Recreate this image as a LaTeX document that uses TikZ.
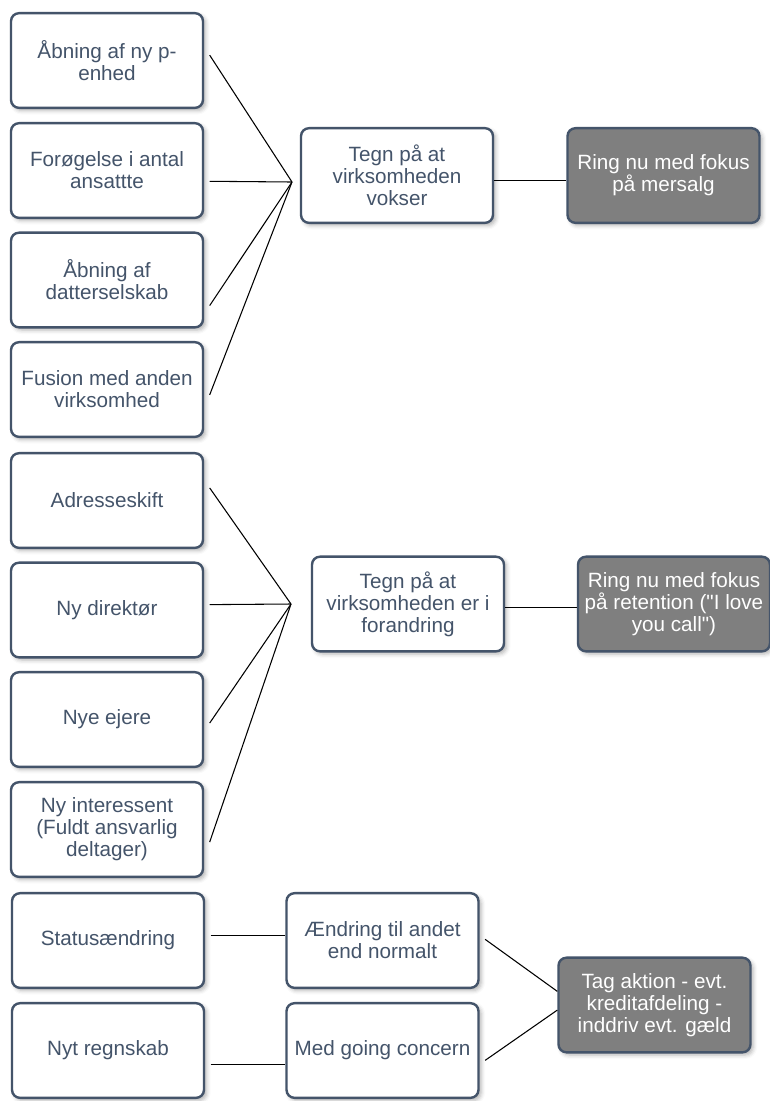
\documentclass[tikz,border=0pt]{standalone}
\usepackage{fontspec}
\setmainfont{Liberation Sans}
\newfontfamily\boxfont{Liberation Sans}
\usetikzlibrary{shadows.blur}
\definecolor{slate}{HTML}{44546A}
\definecolor{darkbox}{HTML}{7F7F7F}

\begin{document}
\begin{tikzpicture}[x=0.75pt, y=-0.75pt,
        box/.style = {rectangle,
            rounded corners=6pt,
            draw=slate, line width=1.8pt,
            fill=white, text=slate,
            align=center,
            minimum width=144pt, minimum height=71pt,
            inner sep=1pt,
            font=\boxfont\fontsize{15.5}{16.4}\selectfont,
            blur shadow={shadow xshift=2pt, shadow yshift=-2pt,
                shadow blur radius=3pt, shadow opacity=30}
            },
        dark/.style = {box, fill=darkbox, text=white},
        src/.style = {outer xsep=5pt},
        link/.style = {draw=black, line width=0.8pt}]

    \useasboundingbox (0,0) rectangle (769,1101);

    % Signs of growth
    \node[box,src] (penhed) at (107,60.5) {Åbning af ny p-\\enhed};
    \node[box,src] (ansatte) at (107,170.5) {Forøgelse i antal\\ansattte};
    \node[box,src] (datter) at (107,280) {Åbning af\\datterselskab};
    \node[box,src] (fusion) at (107,389.5) {Fusion med anden\\virksomhed};

    % Signs of change
    \node[box,src] (adresse) at (107,500.5) {Adresseskift};
    \node[box,src] (direktor) at (107,610) {Ny direktør};
    \node[box,src] (ejere) at (107,719.5) {Nye ejere};
    \node[box,src] (interessent) at (107,829.5) {Ny interessent\\(Fuldt ansvarlig\\deltager)};

    % Status and accounts
    \node[box,src] (status) at (108,940.5) {Statusændring};
    \node[box,src] (regnskab) at (108,1050.5) {Nyt regnskab};

    % Middle column
    \node[box] (vokser) at (397,175.5) {Tegn på at\\virksomheden\\vokser};
    \node[box] (forandring) at (408,604) {Tegn på at\\virksomheden er i\\forandring};
    \node[box] (aendring) at (382.5,940.5) {Ændring til andet\\end normalt};
    \node[box] (going) at (382.5,1050.5) {Med going concern};

    % Actions
    \node[dark] (mersalg) at (663.5,175.5) {Ring nu med fokus\\på mersalg};
    \node[dark] (retention) at (674,604) {Ring nu med fokus\\på retention ("I love\\you call")};
    \node[dark] (aktion) at (654.5,1005) {Tag aktion - evt.\\kreditafdeling -\\inddriv evt. gæld};

    % Junctions
    \coordinate (vj) at (292,182);
    \coordinate (fj) at (291,604);

    % Connectors
    \draw[link] (penhed.3) -- (vj);
    \draw[link] (ansatte.-6.4) -- (vj);
    \draw[link] (datter.-14.2) -- (vj);
    \draw[link] (fusion.-3) -- (vj);

    \draw[link] (adresse.7) -- (fj);
    \draw[link] (direktor.3.3) -- (fj);
    \draw[link] (ejere.-2) -- (fj);
    \draw[link] (interessent.-7.5) -- (fj);

    \draw[link] (vokser.-3.8) -- (vokser.-3.8 -| mersalg.west);
    \draw[link] (forandring.-2.4) -- (forandring.-2.4 -| retention.west);

    \draw[link] (status.3) -- (status.3 -| aendring.west);
    \draw[link] (regnskab.-8.6) -- (regnskab.-8.6 -| going.west);
    \draw[link, shorten <=5pt] (aendring.3.2) -- (aktion.172.5);
    \draw[link, shorten <=5pt] (going.-8.4) -- (aktion.-177);

\end{tikzpicture}
\end{document}
